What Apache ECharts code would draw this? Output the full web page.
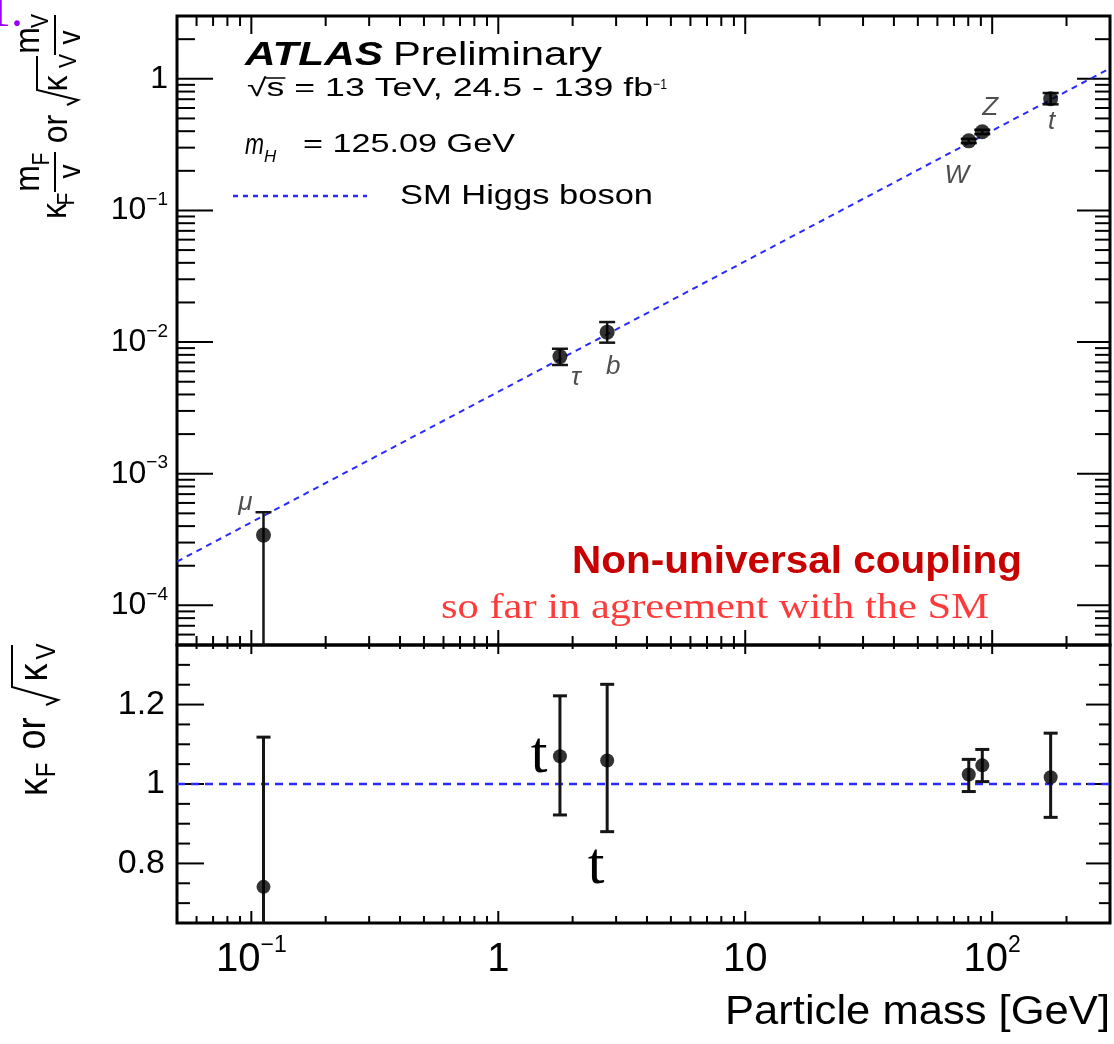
<!DOCTYPE html>
<html>
<head>
<meta charset="utf-8">
<title>Higgs boson coupling strengths vs particle mass</title>
<script src="https://cdn.jsdelivr.net/npm/echarts@6/dist/echarts.min.js"></script>
<style>
  html, body { margin: 0; padding: 0; background: #ffffff; }
  #chart { width: 1114px; height: 1044px; }
</style>
</head>
<body>
<div id="chart"></div>
<script>
// ---- data ---------------------------------------------------------------
const particles = ['μ', 'τ', 'b', 'W', 'Z', 't'];
const masses = [0.112, 1.777, 2.76, 80.4, 91.19, 172.5];           // GeV

// reduced coupling strength (upper panel) with error band ends
const reducedCoupling   = [3.42e-4, 7.76e-3, 1.19e-2, 0.338, 0.396, 0.706];
const reducedCouplingHi = [5.1e-4,  8.9e-3,  1.42e-2, 0.350, 0.410, 0.780];
const reducedCouplingLo = [1e-6,    6.7e-3,  0.99e-2, 0.325, 0.380, 0.640];

// coupling modifiers (lower panel) with error band ends
const kappa   = [0.741, 1.070, 1.059, 1.024, 1.047, 1.017];
const kappaHi = [1.118, 1.222, 1.251, 1.062, 1.087, 1.128];
const kappaLo = [0.400, 0.922, 0.880, 0.981, 1.006, 0.916];

// Standard Model expectation
const smMass = [0.05, 300];
const smCoupling = [2.15e-4, 1.2];
const smKappa = [1, 1];

// axis ranges and labelled ticks
const massRange = [0.05, 300];
const couplingRange = [5e-5, 3];
const kappaRange = [0.65, 1.35];
const kappaTickLabels = [0.8, 1, 1.2];

// ---- styling ------------------------------------------------------------
const SANS = "'Liberation Sans', Arial, Helvetica, sans-serif";
const SERIF = "'Liberation Serif', 'Times New Roman', serif";
const SM_BLUE = '#2a2aff';
const labelOffsets = { 'μ': [-18, -32], 'τ': [16, 21], 'b': [6, 35], 'W': [-12, 35], 'Z': [8, -24], 't': [1, 23] };

const TOP_GRID = { left: 177, top: 16, width: 933, height: 629 };
const BOTTOM_GRID = { left: 177, top: 645, width: 933, height: 278 };

// ---- helpers ------------------------------------------------------------
const measureCtx = document.createElement('canvas').getContext('2d');
function textWidth(text, size, family, weight, style) {
  measureCtx.font = (style || 'normal') + ' ' + (weight || 'normal') + ' ' + size + 'px ' + family;
  return measureCtx.measureText(text).width;
}

// text element; when o.fit is given the text is stretched horizontally to that width
function txt(text, x, y, o) {
  const family = o.family || SANS;
  let sx = o.sx || 1;
  if (o.fit) sx = o.fit / textWidth(text, o.size, family, o.weight, o.style);
  return {
    type: 'text', x: x, y: y, scaleX: sx, scaleY: o.sy || 1, silent: true, z: 100,
    style: {
      text: text, fontSize: o.size, fontFamily: family,
      fontWeight: o.weight || 'normal', fontStyle: o.style || 'normal',
      fill: o.color || '#000', align: o.align || 'left', verticalAlign: o.va || 'middle'
    }
  };
}
function seg(x1, y1, x2, y2, o) {
  return {
    type: 'line', silent: true, z: 100,
    shape: { x1: x1, y1: y1, x2: x2, y2: y2 },
    style: { stroke: (o && o.color) || '#000', lineWidth: (o && o.width) || 2, lineDash: (o && o.dash) || null }
  };
}

function powerLabel(v) {
  const e = Math.log10(v), r = Math.round(e);
  if (Math.abs(e - r) > 1e-6) return '';
  if (r === 0) return '{b|1}';
  if (r === 1) return '{b|10}';
  return '{b|10}{s|' + (r < 0 ? '−' : '') + Math.abs(r) + '}';
}

// tick positions along a log axis (k x 10^n), flag 1 for decades
function logTicks(min, max) {
  const out = [];
  for (let e = -6; e <= 3; e++) {
    for (let k = 1; k <= 9; k++) {
      const v = k * Math.pow(10, e);
      if (v > min * 1.0001 && v < max * 0.9999) out.push({ v: v, major: k === 1 ? 1 : 0 });
    }
  }
  return out;
}
function linTicks(min, max, step, majorEvery) {
  const out = [];
  const i0 = Math.round(min / step), i1 = Math.round(max / step);
  for (let i = i0 + 1; i < i1; i++) out.push({ v: i * step, major: i % majorEvery === 0 ? 1 : 0 });
  return out;
}

// ticks on all four sides of a frame, drawn through the axis scales
function frameTicks(gridIndex, axis, ticks, ref, len) {
  const data = ticks.map(function (t) { return axis === 'x' ? [t.v, ref, t.major] : [ref, t.v, t.major]; });
  return {
    type: 'custom', xAxisIndex: gridIndex, yAxisIndex: gridIndex, silent: true, z: 1,
    data: data,
    renderItem: function (params, api) {
      const cs = params.coordSys;
      const major = api.value(2) === 1;
      const style = { stroke: '#000', lineWidth: 2 };
      const a = major ? len.a[0] : len.a[1];
      const b = major ? len.b[0] : len.b[1];
      const p = api.coord([api.value(0), api.value(1)]);
      if (axis === 'x') {
        const bottom = cs.y + cs.height, top = cs.y;
        return { type: 'group', children: [
          { type: 'line', shape: { x1: p[0], y1: bottom, x2: p[0], y2: bottom - a }, style: style },
          { type: 'line', shape: { x1: p[0], y1: top, x2: p[0], y2: top + b }, style: style }
        ] };
      }
      const left = cs.x, right = cs.x + cs.width;
      return { type: 'group', children: [
        { type: 'line', shape: { x1: left, y1: p[1], x2: left + a, y2: p[1] }, style: style },
        { type: 'line', shape: { x1: right, y1: p[1], x2: right - b, y2: p[1] }, style: style }
      ] };
    }
  };
}

// vertical error bars with end caps, clipped to the frame
function errorBars(gridIndex, x, hi, lo, capHalf, lineWidth) {
  return {
    type: 'custom', xAxisIndex: gridIndex, yAxisIndex: gridIndex, silent: true, z: 10,
    data: x.map(function (m, i) { return [m, hi[i], lo[i]]; }),
    renderItem: function (params, api) {
      const cs = params.coordSys;
      const top = api.coord([api.value(0), api.value(1)]);
      const bot = api.coord([api.value(0), api.value(2)]);
      const yTop = cs.y, yBot = cs.y + cs.height;
      const style = { stroke: '#151515', lineWidth: lineWidth };
      const px = top[0];
      const children = [{ type: 'line', shape: { x1: px, y1: Math.max(top[1], yTop), x2: px, y2: Math.min(bot[1], yBot) }, style: style }];
      if (top[1] >= yTop) children.push({ type: 'line', shape: { x1: px - capHalf, y1: top[1], x2: px + capHalf, y2: top[1] }, style: style });
      if (bot[1] <= yBot) children.push({ type: 'line', shape: { x1: px - capHalf, y1: bot[1], x2: px + capHalf, y2: bot[1] }, style: style });
      return { type: 'group', children: children };
    }
  };
}

// ---- y axis titles (rotated, reading bottom to top) -----------------------
function rotated(gx, gy, children) {
  return { type: 'group', x: gx, y: gy, rotation: Math.PI / 2, children: children, z: 100 };
}
function lt(text, lx, ly, size, extra) {
  return txt(text, lx, ly, Object.assign({ size: size, align: 'center', sy: 1.12 }, extra || {}));
}
function lline(points, w) {
  return { type: 'polyline', silent: true, shape: { points: points }, style: { stroke: '#000', lineWidth: w || 2, fill: null } };
}

const topTitle = rotated(57, 224, [
  lt('κ', 13, -1, 32), lt('F', 25, 10.5, 21),
  lt('m', 45.5, -28, 32), lt('F', 65, -14.5, 21),
  lline([[32, -2], [72, -2]]),
  lt('v', 52.5, 14, 28),
  lt('or', 95, 0, 32),
  lline([[119, 10], [124, 21], [134, -20], [168, -20]]),
  lt('κ', 140.5, 0.5, 32), lt('V', 163, 13, 21),
  lt('m', 183.5, -28, 32), lt('V', 203, -15.5, 21),
  lline([[169, -2], [209, -2]]),
  lt('v', 186.5, 14, 28)
]);

const bottomTitle = rotated(36, 800, [
  lt('κ', 13, 0, 36), lt('F', 30, 11.5, 24),
  lt('or', 66.5, -2.5, 36),
  lline([[95, 10], [100, 22], [113, -24], [155, -24]]),
  lt('κ', 127.5, 0, 36), lt('V', 148.5, 11.5, 24)
]);

// ---- annotations --------------------------------------------------------
const L2 = 25;
const sqrtW = textWidth('√', L2, SANS);
const line2 = '√s = 13 TeV, 24.5 - 139 fb';
const line2Scale = 406 / textWidth(line2, L2, SANS);
const sW = textWidth('s', L2, SANS);

const annotations = [
  txt('1.', 23, 13, { size: 48, family: SERIF, color: '#9a00f5', align: 'right' }),
  txt('ATLAS', 245, 56, { size: 34, weight: 'bold', style: 'italic', fit: 138 }),
  txt('Preliminary', 393, 56, { size: 34, fit: 209 }),
  txt(line2, 247, 89, { size: L2, sx: line2Scale }),
  seg(247 + sqrtW * line2Scale - 1, 78, 247 + (sqrtW + sW) * line2Scale + 1, 78, { width: 1.5 }),
  txt('−1', 653, 85, { size: 15, fit: 14 }),
  txt('m', 245, 146, { size: 29, style: 'italic', fit: 19 }),
  txt('H', 264, 157, { size: 17, style: 'italic' }),
  txt('= 125.09 GeV', 303, 145, { size: 25, fit: 212 }),
  seg(233, 196, 367, 196, { color: SM_BLUE, width: 2.5, dash: [5, 5] }),
  txt('SM Higgs boson', 400, 196, { size: 28, fit: 253 }),
  txt('Non-universal coupling', 572, 562, { size: 39, weight: 'bold', color: '#c80000', fit: 450 }),
  txt('so far in agreement with the SM', 441, 609, { size: 35, family: SERIF, color: '#ff3a3a', fit: 548 }),
  txt('t', 539, 756, { size: 60, family: SERIF, align: 'center' }),
  txt('t', 596, 867, { size: 60, family: SERIF, align: 'center' }),
  txt('Particle mass [GeV]', 1110, 1013, { size: 41, align: 'right', fit: 385 }),
  topTitle,
  bottomTitle
];

// ---- chart --------------------------------------------------------------
const chart = echarts.init(document.getElementById('chart'), null, { renderer: 'canvas' });

const hiddenAxisParts = {
  axisLine: { show: false }, axisTick: { show: false }, splitLine: { show: false }, minorTick: { show: false }
};

const option = {
  animation: false,
  backgroundColor: '#ffffff',
  grid: [
    Object.assign({ show: true, borderColor: '#000', borderWidth: 3, backgroundColor: 'transparent' }, TOP_GRID),
    Object.assign({ show: true, borderColor: '#000', borderWidth: 3, backgroundColor: 'transparent' }, BOTTOM_GRID)
  ],
  xAxis: [
    Object.assign({ gridIndex: 0, type: 'log', logBase: 10, min: massRange[0], max: massRange[1], axisLabel: { show: false } }, hiddenAxisParts),
    Object.assign({
      gridIndex: 1, type: 'log', logBase: 10, min: massRange[0], max: massRange[1],
      axisLabel: {
        show: true, margin: 11, color: '#000', formatter: powerLabel,
        rich: {
          b: { fontSize: 40, lineHeight: 52, fontFamily: SANS, color: '#000' },
          s: { fontSize: 23, lineHeight: 24, fontFamily: SANS, color: '#000', verticalAlign: 'top' }
        }
      }
    }, hiddenAxisParts)
  ],
  yAxis: [
    Object.assign({
      gridIndex: 0, type: 'log', logBase: 10, min: couplingRange[0], max: couplingRange[1],
      axisLabel: {
        show: true, margin: 9, color: '#000', formatter: powerLabel,
        rich: {
          b: { fontSize: 32, lineHeight: 40, fontFamily: SANS, color: '#000' },
          s: { fontSize: 19, lineHeight: 20, fontFamily: SANS, color: '#000', verticalAlign: 'top' }
        }
      }
    }, hiddenAxisParts),
    Object.assign({
      gridIndex: 1, type: 'value', min: kappaRange[0], max: kappaRange[1], interval: 0.05,
      axisLabel: {
        show: true, margin: 12, color: '#000', fontSize: 34, fontFamily: SANS,
        formatter: function (v) {
          const r = Math.round(v * 100) / 100;
          return kappaTickLabels.indexOf(r) >= 0 ? String(r) : '';
        }
      }
    }, hiddenAxisParts)
  ],
  series: [
    frameTicks(0, 'x', logTicks(massRange[0], massRange[1]), 1, { a: [15, 9], b: [18, 10] }),
    frameTicks(0, 'y', logTicks(couplingRange[0], couplingRange[1]), 1, { a: [36, 18], b: [33, 15] }),
    frameTicks(1, 'x', logTicks(massRange[0], massRange[1]), 1, { a: [12, 7], b: [9, 4] }),
    frameTicks(1, 'y', linTicks(kappaRange[0], kappaRange[1], 0.05, 4), 1, { a: [27, 13], b: [24, 11] }),
    {
      name: 'SM Higgs boson', type: 'line', xAxisIndex: 0, yAxisIndex: 0, z: 5,
      data: smMass.map(function (m, i) { return [m, smCoupling[i]]; }),
      symbol: 'none', silent: true,
      lineStyle: { color: SM_BLUE, width: 2, type: [6, 5] }
    },
    {
      name: 'SM ratio', type: 'line', xAxisIndex: 1, yAxisIndex: 1, z: 5,
      data: smMass.map(function (m, i) { return [m, smKappa[i]]; }),
      symbol: 'none', silent: true,
      lineStyle: { color: SM_BLUE, width: 2.5, type: [8, 6] }
    },
    errorBars(0, masses, reducedCouplingHi, reducedCouplingLo, 8, 2.5),
    errorBars(1, masses, kappaHi, kappaLo, 7, 3),
    {
      name: 'Reduced coupling', type: 'scatter', xAxisIndex: 0, yAxisIndex: 0, z: 12,
      symbol: 'circle', symbolSize: 15, silent: true,
      itemStyle: { color: '#000' },
      data: masses.map(function (m, i) {
        return {
          value: [m, reducedCoupling[i]],
          label: { offset: labelOffsets[particles[i]] }
        };
      }),
      label: {
        show: true, position: 'inside', color: '#222', fontSize: 26, fontStyle: 'italic', fontFamily: SANS,
        formatter: function (p) { return particles[p.dataIndex]; }
      }
    },
    {
      name: 'Coupling modifier', type: 'scatter', xAxisIndex: 1, yAxisIndex: 1, z: 12,
      symbol: 'circle', symbolSize: 14, silent: true,
      itemStyle: { color: '#000' },
      data: masses.map(function (m, i) { return [m, kappa[i]]; })
    }
  ],
  graphic: { elements: annotations }
};

chart.setOption(option);
</script>
</body>
</html>
